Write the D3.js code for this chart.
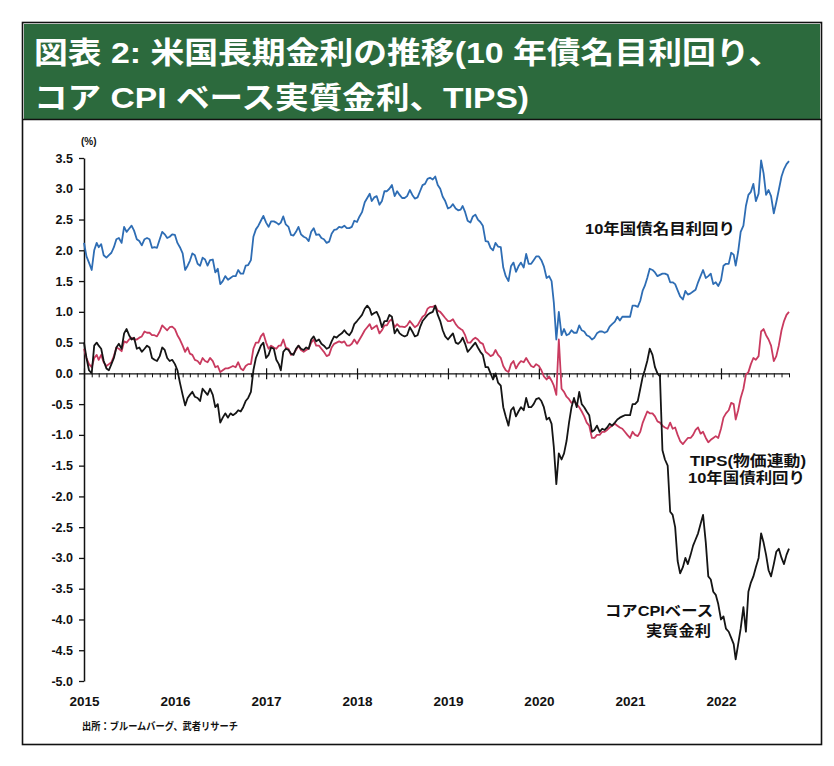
<!DOCTYPE html>
<html>
<head>
<meta charset="utf-8">
<script src="https://cdn.jsdelivr.net/npm/d3@7"></script>
<style>
  body { margin: 0; background: #fff; }
  text { font-family: "Liberation Sans", "Noto Sans CJK JP", sans-serif; font-weight: bold; }
</style>
</head>
<body>
<svg id="chart" width="834" height="766"></svg>
<script>
// 10-day samples (1st, 11th, 21st of each month), Jan 2015 - Oct 2022, in %
const titleLines = ["図表 2: 米国長期金利の推移(10 年債名目利回り、", "コア CPI ベース実質金利、TIPS)"];
const yTicks = [3.5, 3.0, 2.5, 2.0, 1.5, 1.0, 0.5, 0.0, -0.5, -1.0, -1.5, -2.0, -2.5, -3.0, -3.5, -4.0, -4.5, -5.0];
const yearLabels = ["2015", "2016", "2017", "2018", "2019", "2020", "2021", "2022"];

// 10年国債名目利回り
const nominal = [
  2.12,1.90,1.80, 1.68,2.00,2.12, 2.05,2.10,1.92, 1.88,1.92,1.96, 2.05,2.18,2.20, 2.12,2.38,2.30, 2.35,2.40,2.32, 2.18,2.15,2.08, 2.18,2.20,2.18, 2.04,2.05,2.04, 2.18,2.30,2.26, 2.20,2.22,2.26,
  2.25,2.12,2.05, 1.95,1.68,1.75, 1.83,1.95,1.92, 1.78,1.75,1.88, 1.85,1.75,1.84, 1.85,1.64,1.70, 1.45,1.50,1.58, 1.52,1.55,1.58, 1.58,1.68,1.62, 1.62,1.75,1.76, 1.84,2.22,2.34, 2.40,2.48,2.56,
  2.45,2.38,2.47, 2.47,2.45,2.42, 2.45,2.55,2.42, 2.38,2.25,2.24, 2.30,2.38,2.26, 2.22,2.20,2.15, 2.30,2.36,2.25, 2.26,2.20,2.18, 2.12,2.14,2.27, 2.33,2.34,2.38, 2.37,2.40,2.36, 2.36,2.38,2.48,
  2.46,2.55,2.62, 2.78,2.85,2.92, 2.80,2.86,2.88, 2.74,2.80,2.96, 2.96,3.00,3.06, 2.88,2.96,2.90, 2.85,2.85,2.88, 2.98,2.90,2.84, 2.86,2.96,3.06, 3.08,3.16,3.18, 3.15,3.20,3.06, 3.00,2.87,2.80,
  2.68,2.70,2.75, 2.68,2.65,2.66, 2.72,2.62,2.48, 2.45,2.55,2.58, 2.50,2.46,2.40, 2.15,2.14,2.04, 2.00,2.12,2.06, 2.05,1.72,1.58, 1.50,1.74,1.80, 1.65,1.74,1.80, 1.72,1.94,1.78, 1.78,1.84,1.90,
  1.90,1.84,1.74, 1.55,1.58,1.50, 1.15,0.55,1.00, 0.62,0.72,0.62, 0.64,0.70,0.66, 0.66,0.78,0.70, 0.68,0.62,0.60, 0.55,0.58,0.65, 0.68,0.68,0.66, 0.68,0.76,0.80, 0.84,0.92,0.86, 0.92,0.92,0.92,
  0.92,1.10,1.10, 1.08,1.18,1.35, 1.42,1.55,1.70, 1.68,1.64,1.58, 1.60,1.62,1.62, 1.60,1.48,1.48, 1.45,1.35,1.25, 1.20,1.34,1.28, 1.30,1.33,1.36, 1.48,1.58,1.68, 1.55,1.58,1.62, 1.45,1.48,1.42,
  1.51,1.75,1.78, 1.78,1.96,1.93, 1.75,1.98,2.30, 2.40,2.72,2.90, 2.95,3.08,2.80, 2.92,3.46,3.25, 2.90,2.98,2.88, 2.60,2.78,2.98, 3.20,3.32,3.40, 3.45
];

// TIPS(物価連動)10年国債利回り
const tips = [
  0.40,0.25,0.15, 0.10,0.25,0.30, 0.22,0.30,0.18, 0.12,0.15,0.18, 0.28,0.42,0.40, 0.36,0.52,0.50, 0.55,0.58,0.55, 0.55,0.58,0.60, 0.68,0.66,0.66, 0.62,0.62,0.60, 0.68,0.78,0.74, 0.70,0.75,0.76,
  0.72,0.62,0.55, 0.45,0.35,0.42, 0.32,0.30,0.22, 0.20,0.15,0.25, 0.20,0.18,0.25, 0.20,0.10,0.12, 0.02,0.05,0.08, 0.08,0.10,0.12, 0.10,0.18,0.08, 0.05,0.12,0.15, 0.15,0.40,0.50, 0.50,0.60,0.65,
  0.50,0.40,0.45, 0.42,0.40,0.45, 0.45,0.55,0.42, 0.40,0.30,0.32, 0.38,0.45,0.38, 0.35,0.38,0.40, 0.50,0.55,0.45, 0.45,0.40,0.35, 0.28,0.30,0.42, 0.48,0.50,0.52, 0.50,0.52,0.45, 0.45,0.48,0.55,
  0.48,0.55,0.62, 0.70,0.75,0.80, 0.72,0.75,0.78, 0.65,0.70,0.78, 0.78,0.85,0.88, 0.75,0.80,0.76, 0.76,0.75,0.78, 0.85,0.80,0.75, 0.78,0.85,0.92, 0.95,1.05,1.08, 1.08,1.10,1.02, 1.00,0.95,0.90,
  0.85,0.85,0.88, 0.80,0.75,0.72, 0.70,0.62,0.50, 0.50,0.55,0.58, 0.55,0.50,0.48, 0.35,0.32,0.28, 0.30,0.38,0.30, 0.25,0.12,0.05, 0.02,0.15,0.20, 0.08,0.15,0.20, 0.18,0.25,0.18, 0.12,0.10,0.15,
  0.12,0.05,-0.05, -0.10,-0.05,-0.12, -0.20,-0.35,0.55, -0.25,-0.30,-0.38, -0.42,-0.48,-0.45, -0.50,-0.55,-0.62, -0.70,-0.80,-0.85, -1.05,-1.05,-1.00, -1.00,-0.95,-0.95, -0.92,-0.88,-0.85, -0.82,-0.85,-0.88, -0.90,-0.95,-1.00,
  -1.05,-0.95,-1.00, -1.02,-0.95,-0.80, -0.72,-0.62,-0.65, -0.65,-0.70,-0.78, -0.80,-0.85,-0.88, -0.90,-0.80,-0.90, -0.88,-1.00,-1.10, -1.15,-1.10,-1.05, -1.05,-1.00,-0.92, -0.88,-0.98,-0.95, -1.05,-1.12,-1.08, -1.05,-1.02,-1.05,
  -0.90,-0.72,-0.65, -0.60,-0.48,-0.50, -0.75,-0.60,-0.40, -0.25,-0.02,0.02, 0.15,0.25,0.22, 0.28,0.68,0.72, 0.62,0.55,0.45, 0.20,0.28,0.45, 0.70,0.85,0.95, 1.00
];

// コアCPIベース実質金利
const coreReal = [
  0.50,0.25,0.05, 0.00,0.45,0.50, 0.45,0.40,0.20, 0.08,0.05,0.15, 0.25,0.42,0.48, 0.40,0.65,0.72, 0.62,0.55,0.58, 0.40,0.42,0.35, 0.40,0.45,0.42, 0.25,0.22,0.20, 0.28,0.42,0.38, 0.25,0.20,0.22,
  0.15,0.05,-0.15, -0.35,-0.52,-0.40, -0.35,-0.30,-0.38, -0.40,-0.45,-0.25, -0.30,-0.35,-0.25, -0.35,-0.55,-0.50, -0.80,-0.72,-0.65, -0.72,-0.65,-0.68, -0.65,-0.60,-0.62, -0.55,-0.45,-0.40, -0.30,0.05,0.25, 0.35,0.45,0.50,
  0.25,0.30,0.42, 0.40,0.22,0.15, 0.05,0.35,0.40, 0.38,0.32,0.30, 0.40,0.45,0.40, 0.38,0.42,0.40, 0.55,0.60,0.52, 0.55,0.48,0.45, 0.40,0.42,0.52, 0.60,0.58,0.62, 0.65,0.70,0.65, 0.62,0.68,0.80,
  0.85,0.90,0.95, 1.05,1.10,1.05, 0.95,0.98,1.00, 0.90,0.75,0.85, 0.85,0.95,0.92, 0.65,0.72,0.65, 0.62,0.60,0.62, 0.75,0.68,0.60, 0.62,0.75,0.85, 0.90,0.95,0.98, 1.00,1.10,0.95, 0.85,0.70,0.60,
  0.55,0.60,0.65, 0.50,0.48,0.52, 0.58,0.48,0.35, 0.40,0.45,0.50, 0.42,0.35,0.30, 0.10,0.10,0.00, -0.10,0.00,-0.15, -0.20,-0.55,-0.70, -0.85,-0.60,-0.55, -0.70,-0.62,-0.55, -0.60,-0.40,-0.55, -0.55,-0.50,-0.42,
  -0.40,-0.45,-0.55, -0.75,-0.72,-0.82, -1.20,-1.80,-1.30, -1.40,-1.30,-1.10, -0.80,-0.55,-0.40, -0.55,-0.30,-0.50, -0.55,-0.62,-0.68, -0.95,-0.92,-0.85, -0.95,-0.90,-0.92, -0.88,-0.82,-0.85, -0.80,-0.75,-0.72, -0.70,-0.68,-0.68,
  -0.68,-0.50,-0.50, -0.45,-0.25,-0.05, 0.05,0.20,0.40, 0.30,0.10,0.00, -0.05,-1.25,-1.40, -1.50,-2.25,-2.30, -2.50,-3.05,-3.25, -3.15,-3.00,-3.10, -2.95,-2.80,-2.70, -2.60,-2.45,-2.30, -2.75,-3.30,-3.35, -3.55,-3.60,-3.75,
  -4.00,-3.95,-4.15, -4.20,-4.30,-4.40, -4.65,-4.40,-4.15, -3.80,-4.20,-3.55, -3.40,-3.30,-3.15, -3.00,-2.60,-2.75, -2.95,-3.20,-3.30, -3.10,-2.90,-2.85, -3.00,-3.10,-2.95, -2.85
];

// sample dates
const dates = [];
for (let yr = 2015; yr <= 2022; yr++) {
  for (let m = 0; m < 12; m++) {
    [1, 11, 21].forEach(d => dates.push(new Date(Date.UTC(yr, m, d))));
  }
}

const svg = d3.select("#chart");

// frame + title band
svg.append("rect").attr("x", 22.5).attr("y", 22.5).attr("width", 799).attr("height", 722)
  .attr("fill", "#fff").attr("stroke", "#111").attr("stroke-width", 1.6);
svg.append("rect").attr("x", 24).attr("y", 24).attr("width", 796).attr("height", 95).attr("fill", "#2c6a3d");
svg.append("line").attr("x1", 23).attr("x2", 821).attr("y1", 119.5).attr("y2", 119.5).attr("stroke", "#111").attr("stroke-width", 1.5);

const titleLen = [748, 495];
svg.selectAll(".title").data(titleLines).enter().append("text")
  .attr("class", "title")
  .attr("x", 34)
  .attr("y", (d, i) => 63 + i * 45)
  .attr("fill", "#fff")
  .attr("font-size", 30)
  .attr("textLength", (d, i) => titleLen[i])
  .attr("lengthAdjust", "spacingAndGlyphs")
  .text(d => d);

// scales
const x = d3.scaleUtc()
  .domain([new Date(Date.UTC(2015, 0, 1)), new Date(Date.UTC(2022, 9, 1))])
  .range([84, 789]);
const y = d3.scaleLinear().domain([-5, 3.5]).range([681, 158]);

// y axis
const yAx = svg.append("g").attr("transform", "translate(84,0)")
  .call(d3.axisLeft(y).tickValues(yTicks).tickSize(5).tickSizeOuter(0).tickPadding(6)
    .tickFormat(d => d.toFixed(1)));
yAx.select(".domain").attr("stroke", "#111").attr("stroke-width", 1.5);
yAx.selectAll(".tick line").attr("stroke", "#111").attr("stroke-width", 1.3);
yAx.selectAll("text").attr("font-size", 12.5).attr("fill", "#111")
  .style("font-family", "'Liberation Sans', sans-serif").style("font-weight", "bold");

svg.append("text").attr("x", 81).attr("y", 145).attr("font-size", 10).attr("fill", "#111").text("(%)");

// zero line with monthly ticks
const zAx = svg.append("g").attr("transform", `translate(0,${y(0)})`)
  .call(d3.axisBottom(x).ticks(d3.utcMonth.every(1)).tickSize(4).tickSizeOuter(0).tickFormat(""));
zAx.select(".domain").attr("stroke", "#111").attr("stroke-width", 1.3);
zAx.selectAll(".tick line").attr("stroke", "#111").attr("stroke-width", 1);

// yearly ticks crossing the zero line
const yearDates = yearLabels.map(s => new Date(Date.UTC(+s, 0, 1)));
const yrAx = svg.append("g").attr("transform", `translate(0,${y(0) - 5})`)
  .call(d3.axisBottom(x).tickValues(yearDates).tickSize(11).tickFormat(""));
yrAx.select(".domain").remove();
yrAx.selectAll(".tick line").attr("stroke", "#111").attr("stroke-width", 1.2);

// year labels at the bottom
const lblAx = svg.append("g").attr("transform", "translate(0,696)")
  .call(d3.axisBottom(x).tickValues(yearDates).tickSize(0).tickPadding(0)
    .tickFormat((d, i) => yearLabels[i]));
lblAx.select(".domain").remove();
lblAx.selectAll("text").attr("font-size", 13.5).attr("fill", "#111")
  .style("font-family", "'Liberation Sans', sans-serif").style("font-weight", "bold");

// lines
const n = Math.min(nominal.length, tips.length, coreReal.length);
const pts = d3.range(n).map(i => ({ date: dates[i], nominal: nominal[i], tips: tips[i], core: coreReal[i] }));
const series = [
  { key: "nominal", color: "#2e6db4" },
  { key: "tips", color: "#c93a5f" },
  { key: "core", color: "#151515" }
];
series.forEach(s => {
  svg.append("path").datum(pts)
    .attr("fill", "none")
    .attr("stroke", s.color)
    .attr("stroke-width", 1.8)
    .attr("stroke-linejoin", "round")
    .attr("d", d3.line().x(d => x(d.date)).y(d => y(d[s.key])));
});

// series labels
const labels = [
  { t: "10年国債名目利回り", x: 585, y: 234, len: 150 },
  { t: "TIPS(物価連動)", x: 690, y: 466, len: 116 },
  { t: "10年国債利回り", x: 688, y: 483, len: 117 },
  { t: "コアCPIベース", x: 605, y: 616, len: 108 },
  { t: "実質金利", x: 646, y: 636, len: 65 }
];
svg.selectAll(".lbl").data(labels).enter().append("text")
  .attr("class", "lbl")
  .attr("x", d => d.x).attr("y", d => d.y)
  .attr("font-size", 14.5).attr("fill", "#111")
  .attr("textLength", d => d.len).attr("lengthAdjust", "spacingAndGlyphs")
  .text(d => d.t);

// source
svg.append("text").attr("x", 82).attr("y", 730).attr("font-size", 10.5).attr("fill", "#111")
  .attr("textLength", 156).attr("lengthAdjust", "spacingAndGlyphs")
  .text("出所：ブルームバーグ、武者リサーチ");
</script>
</body>
</html>
